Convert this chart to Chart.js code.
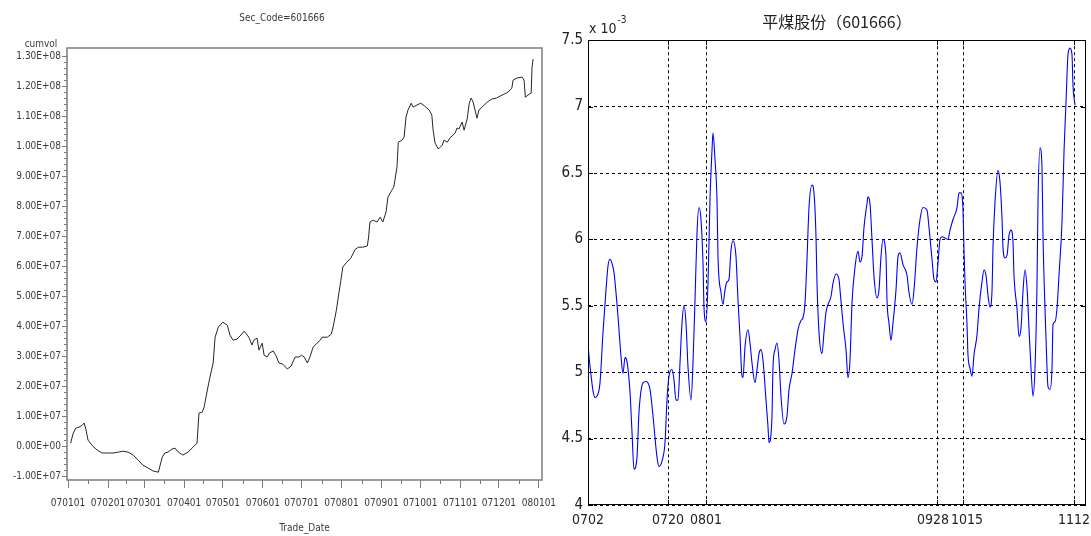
<!DOCTYPE html>
<html>
<head>
<meta charset="utf-8">
<script src="https://cdn.jsdelivr.net/npm/chart.js@4.4.1/dist/chart.umd.min.js"></script>
<style>
    body { margin: 0; background: #fff; }
    #wrap { position: relative; width: 1091px; height: 536px; }
    .panel { position: absolute; top: 0; height: 536px; }
    #left { left: 0; width: 564px; }
    #right { left: 540px; width: 551px; }
    canvas { display: block; }
</style>
</head>
<body>
<div id="wrap">
    <div class="panel" id="left"><canvas id="volChart"></canvas></div>
    <div class="panel" id="right"><canvas id="ratioChart"></canvas></div>
</div>
<script>
/* ---------------------------
   LEFT PANEL DATA (cumvol)
---------------------------- */
// day of year 2007 (0 = Jan 1) for the month ticks
const monthDays = [0, 31, 59, 90, 120, 151, 181, 212, 243, 273, 304, 334, 365];
const monthLabels = ["070101", "070201", "070301", "070401", "070501", "070601", "070701",
                     "070801", "070901", "071001", "071101", "071201", "080101"];
const volTicks = [-1e7, 0, 1e7, 2e7, 3e7, 4e7, 5e7, 6e7, 7e7, 8e7, 9e7, 1e8, 1.1e8, 1.2e8, 1.3e8];

const tradeDay = [2, 4, 6, 8.5, 11, 12.5, 14, 15.5, 18.5, 22.5, 26.5, 30, 35, 39, 42.5, 46.5, 50.5, 54.5,
    58, 62, 66, 70, 73, 75, 77.5, 80.5, 83, 85.5, 89, 93, 97, 100, 101.5, 104, 105.5, 108, 110, 112.5,
    114, 116.5, 120, 123.5, 125.5, 128, 131, 134, 136.5, 139, 140.5, 142.5, 144, 146.5, 148, 150.5,
    152, 154.5, 156, 159, 161, 163.5, 166.5, 170, 173, 176, 179, 181, 183, 185.5, 187.5, 190, 193,
    195.5, 197, 201, 204, 205.5, 208, 209.5, 211.5, 213, 216, 219, 222.5, 225, 228.5, 232, 233, 234,
    236.5, 239.5, 242, 244, 246.5, 248, 251, 252.5, 255, 256, 259, 260.5, 262, 263.5, 266, 267.5,
    270.5, 273.5, 276.5, 280, 282, 283, 284.5, 287, 290, 291.5, 294, 296, 298.5, 300, 301.5, 303,
    305.5, 307, 309.5, 311, 312.5, 314, 315.5, 317, 318.5, 321, 325, 328.5, 332, 335, 338, 341, 344,
    345, 348, 352, 353.5, 354.5, 356.5, 359, 359.7, 360.5];
// cumulative volume, in units of 1e7
const cumvol = [0.10, 0.43, 0.60, 0.63, 0.70, 0.77, 0.53, 0.20, 0.03, -0.13, -0.23, -0.23, -0.23, -0.20,
    -0.17, -0.20, -0.30, -0.47, -0.63, -0.73, -0.83, -0.87, -0.37, -0.23, -0.20, -0.10, -0.07, -0.20,
    -0.30, -0.20, -0.03, 0.10, 1.10, 1.13, 1.30, 1.87, 2.30, 2.77, 3.63, 3.97, 4.13, 4.03, 3.70, 3.53,
    3.57, 3.70, 3.83, 3.70, 3.60, 3.37, 3.53, 3.60, 3.20, 3.43, 3.03, 2.97, 3.10, 3.17, 3.03, 2.77,
    2.73, 2.57, 2.67, 2.97, 2.97, 3.03, 2.97, 2.77, 2.97, 3.30, 3.43, 3.53, 3.63, 3.63, 3.73, 3.97,
    4.53, 4.97, 5.53, 5.97, 6.13, 6.25, 6.55, 6.63, 6.63, 6.67, 6.97, 7.47, 7.53, 7.47, 7.63, 7.47,
    7.80, 8.30, 8.53, 8.63, 9.30, 10.13, 10.20, 10.30, 10.97, 11.20, 11.43, 11.30, 11.37, 11.43,
    11.33, 11.20, 11.03, 10.53, 10.10, 9.90, 10.03, 10.20, 10.13, 10.27, 10.37, 10.43, 10.60, 10.57,
    10.80, 10.53, 10.93, 11.43, 11.60, 11.47, 11.20, 10.93, 11.20, 11.30, 11.47, 11.57, 11.60, 11.67,
    11.73, 11.80, 11.93, 12.20, 12.27, 12.30, 12.20, 11.63, 11.70, 11.77, 12.63, 12.90];

/* ---------------------------
   RIGHT PANEL DATA (ratio)
---------------------------- */
const datePos = [0, 80, 118, 349, 375, 486];
// padded so the close pair 0928 / 1015 sits apart like in MATLAB
const dateLabels = ["0702", "0720", "0801", "0928  ", "  1015", "1112"];
const ratioTicks = [4, 4.5, 5, 5.5, 6, 6.5, 7, 7.5];

const sampleNo = [0, 1, 3, 5, 7, 9, 12, 15, 18, 20, 22, 24, 26, 30, 33, 35, 37, 39, 42, 44, 46, 49, 51,
    55, 58, 62, 65, 69, 71, 74, 77, 79, 81, 84, 86, 88, 90, 92, 94, 96, 98, 100, 103, 105, 107, 109,
    111, 113, 115, 116, 118, 120, 122, 124, 125, 127, 129, 130, 133, 135, 137, 139, 141, 143, 145,
    148, 150, 152, 154, 155, 157, 160, 162, 164, 167, 169, 171, 173, 175, 178, 180, 181, 184, 185,
    187, 189, 191, 193, 196, 199, 201, 204, 207, 210, 213, 215, 217, 219, 221, 224, 226, 228, 229,
    231, 234, 236, 238, 240, 243, 245, 248, 251, 252, 255, 258, 260, 262, 264, 267, 270, 272, 274,
    276, 279, 280, 282, 284, 286, 289, 291, 293, 295, 298, 299, 301, 303, 305, 308, 310, 312, 315,
    319, 321, 324, 326, 329, 332, 335, 339, 341, 344, 346, 348, 350, 352, 354, 357, 360, 362, 365,
    369, 371, 373, 375, 376, 377, 379, 380, 382, 384, 386, 389, 391, 394, 396, 398, 400, 402, 404,
    405, 407, 410, 412, 414, 415, 417, 419, 421, 423, 425, 426, 429, 431, 433, 435, 437, 439, 441,
    443, 445, 447, 449, 450, 452, 454, 455, 457, 459, 460, 462, 464, 465, 467, 469, 471, 474, 476,
    478, 480, 482, 484, 485, 487];
// values in units of 1e-3
const ratio = [5.22, 5.12, 4.98, 4.86, 4.81, 4.82, 4.92, 5.30, 5.62, 5.80, 5.85, 5.82, 5.75, 5.42, 5.12,
    4.99, 5.11, 5.08, 4.85, 4.55, 4.27, 4.36, 4.70, 4.92, 4.93, 4.87, 4.67, 4.36, 4.29, 4.33, 4.47,
    4.79, 4.97, 5.02, 4.94, 4.79, 4.79, 5.07, 5.37, 5.50, 5.37, 5.04, 4.79, 5.07, 5.54, 6.05, 6.24,
    6.15, 5.82, 5.49, 5.38, 5.67, 6.30, 6.67, 6.80, 6.60, 6.30, 5.87, 5.60, 5.51, 5.62, 5.68, 5.70,
    5.92, 5.99, 5.87, 5.54, 5.27, 4.97, 4.96, 5.19, 5.32, 5.22, 5.07, 4.92, 5.02, 5.14, 5.17, 5.09,
    4.79, 4.59, 4.47, 4.67, 5.04, 5.17, 5.22, 5.09, 4.82, 4.61, 4.67, 4.87, 4.99, 5.17, 5.32, 5.39,
    5.41, 5.52, 5.85, 6.24, 6.41, 6.35, 6.02, 5.67, 5.30, 5.14, 5.30, 5.45, 5.51, 5.57, 5.67, 5.74,
    5.70, 5.62, 5.37, 5.17, 4.96, 5.09, 5.52, 5.79, 5.91, 5.83, 5.87, 6.09, 6.27, 6.32, 6.27, 6.00,
    5.72, 5.56, 5.62, 5.87, 6.00, 5.87, 5.54, 5.37, 5.24, 5.37, 5.62, 5.87, 5.90, 5.81, 5.73, 5.60,
    5.51, 5.62, 5.94, 6.15, 6.24, 6.22, 6.09, 5.85, 5.70, 5.68, 5.82, 6.00, 6.02, 6.01, 6.00, 6.07,
    6.15, 6.24, 6.35, 6.35, 6.22, 5.92, 5.68, 5.36, 5.13, 5.03, 4.97, 5.13, 5.28, 5.48, 5.68, 5.77,
    5.73, 5.58, 5.49, 5.61, 5.94, 6.28, 6.52, 6.43, 6.16, 5.94, 5.86, 5.88, 6.03, 6.07, 5.98, 5.73,
    5.48, 5.27, 5.33, 5.61, 5.77, 5.64, 5.33, 5.03, 4.82, 5.03, 5.66, 6.28, 6.69, 6.54, 6.03, 5.48,
    5.03, 4.89, 4.87, 5.03, 5.36, 5.38, 5.48, 5.73, 6.13, 6.66, 7.03, 7.39, 7.44, 7.39, 7.16, 7.01];

/* ---------------------------
   SHARED STYLE
---------------------------- */
const sasFamily = "'DejaVu Sans Condensed', 'DejaVu Sans', sans-serif";
const sasText = "#3a3a3a";
const sasFrameColor = "#7c7c7c";
const matFamily = "'Liberation Sans Narrow', 'DejaVu Sans Condensed', sans-serif";

// SAS style exponent label: 1.30E+08
function sasExp(v) {
    if (v === 0) return "0.00E+00";
    const e = Math.floor(Math.log10(Math.abs(v)) + 1e-9);
    const m = v / Math.pow(10, e);
    return m.toFixed(2) + "E" + (e < 0 ? "-" : "+") + String(Math.abs(e)).padStart(2, "0");
}

/* ---------------------------
   LEFT CHART
---------------------------- */
const sasFrame = {
    id: "sasFrame",
    afterDraw(chart) {
        const { ctx, chartArea: a, scales: { x, y } } = chart;
        ctx.save();
        ctx.strokeStyle = sasFrameColor;
        ctx.lineWidth = 1.5;
        ctx.strokeRect(a.left, a.top, a.width, a.height);

        // minor ticks
        ctx.lineWidth = 1;
        ctx.beginPath();
        for (let i = 1; i < monthDays.length; i++) {
            const px = Math.round(x.getPixelForValue((monthDays[i - 1] + monthDays[i]) / 2)) + 0.5;
            ctx.moveTo(px, a.bottom);
            ctx.lineTo(px, a.bottom + 4);
        }
        for (let i = 1; i < volTicks.length; i++) {
            const step = (volTicks[i] - volTicks[i - 1]) / 5;
            for (let k = 1; k < 5; k++) {
                const py = Math.round(y.getPixelForValue(volTicks[i - 1] + k * step)) + 0.5;
                ctx.moveTo(a.left - 3, py);
                ctx.lineTo(a.left, py);
            }
        }
        ctx.stroke();

        ctx.fillStyle = sasText;
        ctx.font = "10px " + sasFamily;
        ctx.textAlign = "center";
        ctx.textBaseline = "alphabetic";
        ctx.fillText("cumvol", a.left - 26, a.top - 1);
        ctx.restore();
    }
};

new Chart(document.getElementById("volChart"), {
    type: "line",
    data: {
        datasets: [{
            data: tradeDay.map((d, i) => ({ x: d, y: cumvol[i] * 1e7 })),
            borderColor: "#262626",
            borderWidth: 1,
            pointRadius: 0,
            tension: 0
        }]
    },
    options: {
        responsive: true,
        maintainAspectRatio: false,
        animation: false,
        layout: { padding: 0 },
        plugins: {
            legend: { display: false },
            tooltip: { enabled: false },
            title: {
                display: true,
                text: "Sec_Code=601666",
                color: sasText,
                font: { family: sasFamily, size: 10, weight: "normal" },
                padding: { top: 12, bottom: 24 }
            }
        },
        scales: {
            x: {
                type: "linear",
                min: -0.8,
                max: 367.4,
                afterBuildTicks: s => { s.ticks = monthDays.map(v => ({ value: v })); },
                // keep 22px free on the right of the frame, title stays centred on the canvas
                afterFit: s => { s.height = 56; s.paddingLeft = 0; s.paddingRight = 22; },
                ticks: {
                    autoSkip: false,
                    maxRotation: 0,
                    padding: 9,
                    color: sasText,
                    font: { family: sasFamily, size: 10 },
                    callback: (v, i) => monthLabels[i]
                },
                grid: { drawOnChartArea: false, drawTicks: true, tickLength: 8, color: sasFrameColor },
                border: { display: false },
                title: {
                    display: true,
                    text: "Trade_Date",
                    color: sasText,
                    font: { family: sasFamily, size: 10 },
                    padding: { top: 0, bottom: 2 }
                }
            },
            y: {
                type: "linear",
                min: -1.13e7,
                max: 1.327e8,
                afterBuildTicks: s => { s.ticks = volTicks.map(v => ({ value: v })); },
                afterFit: s => { s.width = 67; },
                ticks: {
                    autoSkip: false,
                    padding: 1,
                    color: sasText,
                    font: { family: sasFamily, size: 10 },
                    callback: v => sasExp(v)
                },
                grid: { drawOnChartArea: false, drawTicks: true, tickLength: 5, color: sasFrameColor },
                border: { display: false }
            }
        }
    },
    plugins: [sasFrame]
});

/* ---------------------------
   RIGHT CHART
---------------------------- */
const matFrame = {
    id: "matFrame",
    afterDraw(chart) {
        const { ctx, chartArea: a, scales: { x, y } } = chart;
        ctx.save();
        ctx.strokeStyle = "#000";
        ctx.lineWidth = 1;
        ctx.strokeRect(Math.round(a.left) + 0.5, Math.round(a.top) + 0.5,
                       Math.round(a.width) - 1, Math.round(a.height) - 1);

        // inward tick marks
        ctx.beginPath();
        ratioTicks.forEach(v => {
            const py = Math.round(y.getPixelForValue(v)) + 0.5;
            ctx.moveTo(a.left, py); ctx.lineTo(a.left + 5, py);
            ctx.moveTo(a.right - 5, py); ctx.lineTo(a.right, py);
        });
        datePos.forEach(v => {
            const px = Math.round(x.getPixelForValue(v)) + 0.5;
            ctx.moveTo(px, a.bottom); ctx.lineTo(px, a.bottom - 5);
            ctx.moveTo(px, a.top); ctx.lineTo(px, a.top + 5);
        });
        ctx.stroke();

        // exponent label
        ctx.fillStyle = "#222";
        ctx.textAlign = "left";
        ctx.textBaseline = "alphabetic";
        ctx.font = "14px " + matFamily;
        const base = "x 10";
        ctx.fillText(base, a.left + 1, a.top - 7);
        const w = ctx.measureText(base).width;
        ctx.font = "10px " + matFamily;
        ctx.fillText("-3", a.left + 2 + w, a.top - 17);
        ctx.restore();
    }
};

new Chart(document.getElementById("ratioChart"), {
    type: "line",
    data: {
        datasets: [{
            data: sampleNo.map((s, i) => ({ x: s, y: ratio[i] })),
            borderColor: "#0000ff",
            borderWidth: 1.1,
            pointRadius: 0,
            cubicInterpolationMode: "monotone"
        }]
    },
    options: {
        responsive: true,
        maintainAspectRatio: false,
        animation: false,
        layout: { padding: { top: 0, right: 5, bottom: 0, left: 0 } },
        plugins: {
            legend: { display: false },
            tooltip: { enabled: false },
            title: {
                display: true,
                fullSize: false,
                text: "平煤股份（601666）",
                color: "#222",
                font: { family: "'Noto Sans CJK SC', sans-serif", size: 16, weight: "normal" },
                padding: { top: 12, bottom: 9 }
            }
        },
        scales: {
            x: {
                type: "linear",
                min: 0,
                max: 498,
                afterBuildTicks: s => { s.ticks = datePos.map(v => ({ value: v })); },
                afterFit: s => { s.height = 31; s.paddingLeft = 0; s.paddingRight = 0; },
                ticks: {
                    autoSkip: false,
                    maxRotation: 0,
                    padding: 7,
                    color: "#222",
                    font: { family: matFamily, size: 14 },
                    callback: (v, i) => dateLabels[i]
                },
                grid: { drawTicks: false, color: "#000", lineWidth: 1 },
                border: { display: false, dash: [3, 3] }
            },
            y: {
                type: "linear",
                min: 4,
                max: 7.5,
                afterBuildTicks: s => { s.ticks = ratioTicks.map(v => ({ value: v })); },
                afterFit: s => { s.width = 48; },
                ticks: {
                    autoSkip: false,
                    padding: 5,
                    color: "#222",
                    font: { family: matFamily, size: 15 },
                    callback: v => String(v)
                },
                grid: { drawTicks: false, color: "#000", lineWidth: 1 },
                border: { display: false, dash: [3, 3] }
            }
        }
    },
    plugins: [matFrame]
});
</script>
</body>
</html>
